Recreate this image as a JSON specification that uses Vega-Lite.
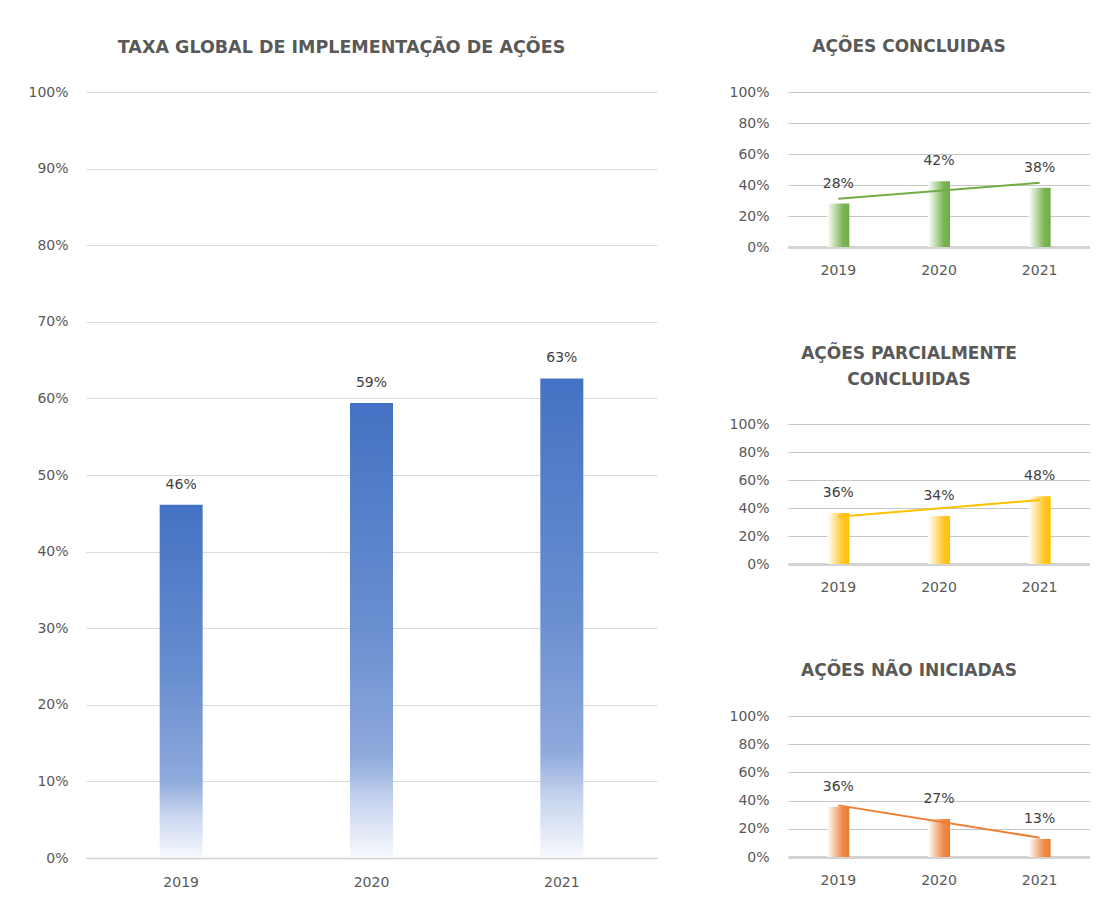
{
  "$schema": "https://vega.github.io/schema/vega-lite/v6.json",
  "background": "white",
  "padding": {"left": 26, "top": 38, "right": 0, "bottom": 0},
  "spacing": 71,
  "datasets": {
    "global": [
      {"ano": 2019, "valor": 0.461},
      {"ano": 2020, "valor": 0.594},
      {"ano": 2021, "valor": 0.626}
    ],
    "concluidas": [
      {"ano": 2019, "valor": 0.28},
      {"ano": 2020, "valor": 0.424},
      {"ano": 2021, "valor": 0.383}
    ],
    "parciais": [
      {"ano": 2019, "valor": 0.364},
      {"ano": 2020, "valor": 0.343},
      {"ano": 2021, "valor": 0.484}
    ],
    "naoiniciadas": [
      {"ano": 2019, "valor": 0.357},
      {"ano": 2020, "valor": 0.27},
      {"ano": 2021, "valor": 0.128}
    ]
  },
  "hconcat": [
    {
      "width": 571,
      "height": 766,
      "title": {"text": "TAXA GLOBAL DE IMPLEMENTAÇÃO DE AÇÕES", "offset": 29, "fontSize": 17.5},
      "data": {"name": "global"},
      "encoding": {
        "x": {"field": "ano", "type": "nominal",
          "axis": {"labelAngle": 0, "labelPadding": 17, "domainColor": "#D0D0D0", "domainWidth": 1.5, "grid": false, "minExtent": 35}},
        "y": {"field": "valor", "type": "quantitative", "scale": {"domain": [0, 1]},
          "axis": {"format": ".0%", "values": [0, 0.1, 0.2, 0.3, 0.4, 0.5, 0.6, 0.7, 0.8, 0.9, 1], "domain": false, "gridColor": "#DADADA", "labelPadding": 18, "minExtent": 60, "maxExtent": 60}}
      },
      "layer": [
        {"mark": {"type": "bar", "size": 43, "color": {"gradient": "linear", "x1": 0, "y1": 0, "x2": 0, "y2": 1,
          "stops": [
            {"offset": 0, "color": "#4472C4"},
            {"offset": 0.5, "color": "#6A8FD0"},
            {"offset": 0.78, "color": "#8FAADC"},
            {"offset": 0.88, "color": "#C9D6EF"},
            {"offset": 1, "color": "#F7F9FD"}
          ]}}},
        {"mark": {"type": "text", "dy": -16, "baseline": "alphabetic", "fontSize": 14, "color": "#404040"},
          "encoding": {"text": {"field": "valor", "type": "quantitative", "format": ".0%"}}}
      ]
    },
    {
      "spacing": 68,
      "vconcat": [
        {
          "width": 302,
          "height": 155,
          "title": {"text": "AÇÕES CONCLUIDAS", "offset": 29},
          "data": {"name": "concluidas"},
          "encoding": {
            "x": {"field": "ano", "type": "nominal",
              "axis": {"labelAngle": 0, "labelPadding": 16, "domainColor": "#D3D3D3", "domainWidth": 3, "grid": false, "minExtent": 30}},
            "y": {"field": "valor", "type": "quantitative", "scale": {"domain": [0, 1]},
              "axis": {"format": ".0%", "values": [0, 0.2, 0.4, 0.6, 0.8, 1], "domain": false, "gridColor": "#C6C6C6", "labelPadding": 19, "minExtent": 60, "maxExtent": 60}}
          },
          "layer": [
            {"mark": {"type": "bar", "size": 22, "color": {"gradient": "linear", "x1": 0, "y1": 0, "x2": 1, "y2": 0,
              "stops": [
                {"offset": 0, "color": "#FFFFFF"},
                {"offset": 0.4, "color": "#B5D6A0"},
                {"offset": 0.7, "color": "#7DB557"},
                {"offset": 1, "color": "#70AD47"}
              ]}}},
            {"mark": {"type": "text", "dy": -16, "baseline": "alphabetic", "fontSize": 14, "color": "#404040"},
              "encoding": {"text": {"field": "valor", "type": "quantitative", "format": ".0%"}}},
            {"transform": [{"regression": "valor", "on": "ano"}],
              "mark": {"type": "line", "color": "#70AD47", "strokeWidth": 2},
              "encoding": {}}
          ]
        },
        {
          "width": 302,
          "height": 140,
          "title": {"text": ["AÇÕES PARCIALMENTE", "CONCLUIDAS"], "offset": 28, "lineHeight": 26},
          "data": {"name": "parciais"},
          "encoding": {
            "x": {"field": "ano", "type": "nominal",
              "axis": {"labelAngle": 0, "labelPadding": 16, "domainColor": "#D3D3D3", "domainWidth": 3, "grid": false, "minExtent": 30}},
            "y": {"field": "valor", "type": "quantitative", "scale": {"domain": [0, 1]},
              "axis": {"format": ".0%", "values": [0, 0.2, 0.4, 0.6, 0.8, 1], "domain": false, "gridColor": "#C6C6C6", "labelPadding": 19, "minExtent": 60, "maxExtent": 60}}
          },
          "layer": [
            {"mark": {"type": "bar", "size": 22, "color": {"gradient": "linear", "x1": 0, "y1": 0, "x2": 1, "y2": 0,
              "stops": [
                {"offset": 0, "color": "#FFFFFF"},
                {"offset": 0.4, "color": "#FFE08A"},
                {"offset": 0.7, "color": "#FFC72A"},
                {"offset": 1, "color": "#FFC000"}
              ]}}},
            {"mark": {"type": "text", "dy": -16, "baseline": "alphabetic", "fontSize": 14, "color": "#404040"},
              "encoding": {"text": {"field": "valor", "type": "quantitative", "format": ".0%"}}},
            {"transform": [{"regression": "valor", "on": "ano"}],
              "mark": {"type": "line", "color": "#FFC000", "strokeWidth": 2},
              "encoding": {}}
          ]
        },
        {
          "width": 302,
          "height": 141,
          "title": {"text": "AÇÕES NÃO INICIADAS", "offset": 29},
          "data": {"name": "naoiniciadas"},
          "encoding": {
            "x": {"field": "ano", "type": "nominal",
              "axis": {"labelAngle": 0, "labelPadding": 16, "domainColor": "#D3D3D3", "domainWidth": 3, "grid": false, "minExtent": 30}},
            "y": {"field": "valor", "type": "quantitative", "scale": {"domain": [0, 1]},
              "axis": {"format": ".0%", "values": [0, 0.2, 0.4, 0.6, 0.8, 1], "domain": false, "gridColor": "#C6C6C6", "labelPadding": 19, "minExtent": 60, "maxExtent": 60}}
          },
          "layer": [
            {"mark": {"type": "bar", "size": 22, "color": {"gradient": "linear", "x1": 0, "y1": 0, "x2": 1, "y2": 0,
              "stops": [
                {"offset": 0, "color": "#FFFFFF"},
                {"offset": 0.4, "color": "#F5B996"},
                {"offset": 0.7, "color": "#EF8A4A"},
                {"offset": 1, "color": "#ED7D31"}
              ]}}},
            {"mark": {"type": "text", "dy": -16, "baseline": "alphabetic", "fontSize": 14, "color": "#404040"},
              "encoding": {"text": {"field": "valor", "type": "quantitative", "format": ".0%"}}},
            {"transform": [{"regression": "valor", "on": "ano"}],
              "mark": {"type": "line", "color": "#ED7D31", "strokeWidth": 2},
              "encoding": {}}
          ]
        }
      ]
    }
  ],
  "config": {
    "font": "DejaVu Sans",
    "view": {"stroke": null},
    "axis": {"labelFont": "DejaVu Sans", "labelFontSize": 14, "labelColor": "#595959", "ticks": false, "title": null},
    "title": {"font": "DejaVu Sans", "fontSize": 17, "fontWeight": "bold", "color": "#595959", "anchor": "middle", "frame": "bounds", "baseline": "bottom"}
  }
}
